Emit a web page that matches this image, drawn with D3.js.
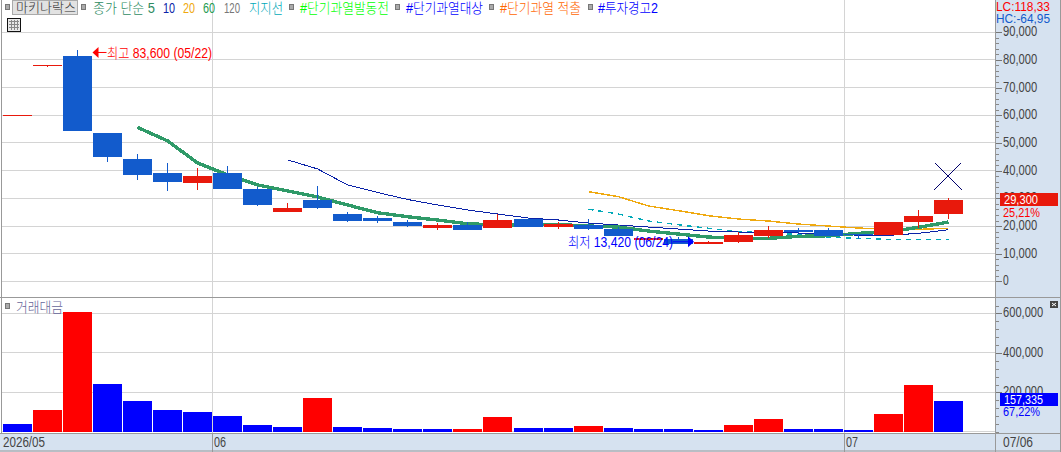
<!DOCTYPE html>
<html><head><meta charset="utf-8">
<script src="https://cdn.jsdelivr.net/npm/d3@7/dist/d3.min.js"></script>
<style>html,body{margin:0;padding:0;background:#fff;overflow:hidden}svg{display:block}
text{font-family:"Liberation Sans","Noto Sans CJK KR",sans-serif;font-weight:300}</style></head><body>
<svg id="c" width="1061" height="452"></svg>
<script>
const dates=["05/20","05/21","05/22","05/26","05/27","05/28","05/29","06/01","06/02","06/04","06/05","06/08","06/09","06/10","06/11","06/12","06/15","06/16","06/17","06/18","06/19","06/22","06/23","06/24","06/25","06/26","06/29","06/30","07/01","07/02","07/03","07/06"];
const open =[60000,78100,81500,53650,44250,39180,35560,39180,33390,25070,29410,24350,22900,21450,19280,20370,19280,22540,19650,20370,18920,14940,15300,13500,14220,16390,18560,18560,17000,16750,21450,24350];
const high =[60000,78100,83600,53650,46060,42800,40990,41720,34120,28330,34480,25070,23630,22180,21090,21450,24350,22900,21450,22540,19650,16000,16030,14580,17840,20010,19280,19280,17000,21450,25800,30140];
const low  =[60000,77530,54400,43160,36650,32670,33030,33390,27240,25070,26160,21450,21090,19650,18560,18560,19280,19650,18920,18560,16390,14700,13500,13420,13860,15670,17480,16390,15300,16750,19280,22540];
const close=[60000,78100,54400,44970,38460,35930,38100,33390,27610,26520,26520,21820,21820,20010,20370,18560,22180,19650,20730,18920,16390,15670,13500,14220,16750,18560,17840,16390,16750,21450,23630,29300];
const ma5  =[55640,50760,42800,38460,34840,32670,30500,27610,24820,23370,22180,20840,20370,20480,20550,20010,19650,18200,17110,16030,15490,15560,16280,16500,17370,17950,19540,21450];
const ma10 =[43890,40630,34840,32130,29600,27610,25800,24350,22900,22180,21090,20370,19650,18920,18200,17840,17840,17480,16860,16750,16640,17370,18670];
const ma20 =[32420,30610,27240,25540,23730,22540,21820,20730,20010,19280,18920,18810,19180];
const support=[26050,24350,21820,20480,19180,17950,17730,16860,16030,15560,15200,15200,15200];
const turnover=[39000,110000,606000,241700,155600,110000,99800,79600,34000,23800,170800,23800,18750,13700,13700,13700,74500,18750,18750,28900,18750,13700,13700,8600,34000,64400,13700,13700,8600,89700,236700,157335];
const turnoverUp=[0,1,1,0,0,0,0,0,0,0,1,0,0,0,0,1,1,0,0,1,0,0,0,0,1,1,0,0,0,1,1,0];
const priceTicks=[0,10000,20000,30000,40000,50000,60000,70000,80000,90000];
const turnoverTicks=[0,200000,400000,600000];
const monthLabels=[["05/20","2026/05"],["06/01","06"],["07/01","07"]];

const svg=d3.select("#c");
const W=1061,H=452,axisX=995,midY=297,stripY=433;
const CUP="#e8190c",CDN="#125bcc",GRID="#d4d4d4",PANEL="#d6e2f0",EDGE="#999",AX="#444";
const x=d3.scaleBand().domain(dates).range([2.5,964.42]);
const y=d3.scaleLinear().domain([0,90000]).range([281.45,32.15]);
const yv=d3.scaleLinear().domain([0,600000]).range([431.9,313.4]);
const left=d=>Math.round(x(d)), cx=d=>left(d)+14.5;
const crisp=v=>Math.floor(v)+.5;

function txt(px,py,s,color,w,opts={}){
  return svg.append("text").attr("x",px).attr("y",py).attr("dy","0.36em")
   .attr("font-size",opts.size||14).attr("fill",color).attr("textLength",w)
   .attr("lengthAdjust","spacingAndGlyphs").text(s);
}
function square(px,py){svg.append("rect").attr("x",px-2).attr("y",py-2.5).attr("width",4).attr("height",5)
   .attr("fill","#aaa").attr("stroke","#777").attr("stroke-width",1);}

// panels
svg.append("rect").attr("x",axisX).attr("y",0).attr("width",W-axisX).attr("height",H).attr("fill",PANEL);
svg.append("rect").attr("x",0).attr("y",stripY).attr("width",W).attr("height",H-stripY).attr("fill",PANEL);

// grid
const grid=svg.append("g").attr("stroke",GRID).attr("stroke-width",1);
priceTicks.forEach(t=>grid.append("line").attr("x1",2).attr("x2",axisX).attr("y1",crisp(y(t))).attr("y2",crisp(y(t))));
turnoverTicks.forEach(t=>grid.append("line").attr("x1",2).attr("x2",axisX).attr("y1",crisp(yv(t))).attr("y2",crisp(yv(t))));
const monthX=d=>crisp(x(d));
["06/01","07/01"].forEach(d=>grid.append("line").attr("x1",monthX(d)).attr("x2",monthX(d)).attr("y1",0).attr("y2",stripY));

// moving averages
const lineOf=(vals,start)=>d3.line().x((v,i)=>cx(dates[start+i])).y(v=>y(v))(vals);
const mas=svg.append("g").attr("fill","none").attr("shape-rendering","crispEdges");
mas.append("path").attr("d",lineOf(support,19)).attr("stroke","#00a9b8").attr("stroke-width",1.4).attr("stroke-dasharray","5,5");
mas.append("path").attr("d",lineOf(ma20,19)).attr("stroke","#efa90f").attr("stroke-width",1.4);
mas.append("path").attr("d",lineOf(ma10,9)).attr("stroke","#0a22a8").attr("stroke-width",1);
mas.append("path").attr("d",lineOf(ma5,4)).attr("stroke","#2f9a68").attr("stroke-width",3.4);

// candles
const candles=svg.append("g").attr("shape-rendering","crispEdges");
dates.forEach((d,i)=>{
  const up=close[i]>=open[i], col=up?CUP:CDN;
  const top=Math.round(y(Math.max(open[i],close[i]))), bot=Math.round(y(Math.min(open[i],close[i])));
  candles.append("rect").attr("x",left(d)+14).attr("width",1).attr("y",Math.round(y(high[i]))).attr("height",Math.max(1,Math.round(y(low[i]))-Math.round(y(high[i])))).attr("fill",col);
  candles.append("rect").attr("x",left(d)).attr("width",29).attr("y",top).attr("height",Math.max(1,bot-top)).attr("fill",col);
});

// turnover bars
svg.append("g").attr("shape-rendering","crispEdges").selectAll("rect").data(turnover).join("rect")
  .attr("x",(v,i)=>left(dates[i])).attr("width",29)
  .attr("y",v=>Math.round(yv(v))).attr("height",v=>432-Math.round(yv(v)))
  .attr("fill",(v,i)=>turnoverUp[i]?"#ff0000":"#0000ff");

// frame
const frame=svg.append("g").attr("stroke",EDGE).attr("stroke-width",1);
[[1.5,0,1.5,stripY],[axisX+.5,0,axisX+.5,H],[0,midY+.5,W,midY+.5],[0,stripY+.5,W,stripY+.5],[0,H-1,W,H-1],[W-.5,0,W-.5,H],[monthX("06/01"),stripY,monthX("06/01"),H],[monthX("07/01"),stripY,monthX("07/01"),H]]
 .forEach(a=>frame.append("line").attr("x1",a[0]).attr("y1",a[1]).attr("x2",a[2]).attr("y2",a[3]));

// axes
function styleAxis(g,charW){
  g.select(".domain").remove();
  g.selectAll("line").attr("stroke","#777").attr("shape-rendering","crispEdges");
  g.selectAll("text").attr("font-size",14).attr("fill",AX).attr("dy","0.25em")
   .attr("lengthAdjust","spacingAndGlyphs").attr("textLength",function(){return this.textContent.length*charW;});
}
const minorPrice=d3.range(0,46).map(k=>k*2000), minorTurn=d3.range(0,18).map(k=>k*40000);
svg.append("g").attr("transform",`translate(${axisX+1},0)`).call(d3.axisRight(y).tickValues(minorPrice).tickSize(3).tickFormat(""))
   .call(g=>{g.select(".domain").remove();g.selectAll("line").attr("stroke","#888").attr("shape-rendering","crispEdges");
     g.selectAll(".tick").filter(d=>y(d)<24).remove();});
svg.append("g").attr("transform",`translate(${axisX+1},0)`).call(d3.axisRight(yv).tickValues(minorTurn).tickSize(3).tickFormat(""))
   .call(g=>{g.select(".domain").remove();g.selectAll("line").attr("stroke","#888").attr("shape-rendering","crispEdges");
     g.selectAll(".tick").filter(d=>yv(d)<299).remove();});
svg.append("g").attr("transform",`translate(${axisX+1},0)`).call(d3.axisRight(y).tickValues(priceTicks).tickSize(6).tickPadding(1).tickFormat(d3.format(","))).call(g=>styleAxis(g,5.7));
svg.append("g").attr("transform",`translate(${axisX+1},0)`).call(d3.axisRight(yv).tickValues(turnoverTicks.slice(1)).tickSize(6).tickPadding(1).tickFormat(d3.format(","))).call(g=>styleAxis(g,5.75));

// date labels
monthLabels.forEach(m=>{const px=m[0]==="05/20"?3:monthX(m[0])+1.5;
  txt(px,441.5,m[1],AX,m[1].length*6);});
txt(1003,441.5,"07/06",AX,30);

// legend row
square(7.5,7);
svg.append("rect").attr("x",12.5).attr("y",.5).attr("width",65).attr("height",14).attr("fill","#e2e2e2").attr("stroke","#aaa");
txt(16,7.5,"마키나락스","#333",60,{size:13});
square(83.5,7);
txt(93,8,"종가 단순 5","#2e8b62",62);
txt(163,8,"10","#0a22a8",12);
txt(183,8,"20","#efa90f",12);
txt(203,8,"60","#1e9a50",12);
txt(224,8,"120","#777",16);
txt(249,8,"지지선","#00a9b8",34);
square(291.5,7);
txt(300,8,"#단기과열발동전","#00ff00",89);
square(397.5,7);
txt(406,8,"#단기과열대상","#0000ff",77);
square(491.5,7);
txt(500,8,"#단기과열 적출","#ff6600",81);
square(590.5,7);
txt(598,8,"#투자경고2","#0000ff",60);

// table icon
svg.append("rect").attr("x",7.5).attr("y",18.5).attr("width",13).attr("height",13).attr("fill","#e8e8e8").attr("stroke","#111");
const ic=svg.append("g").attr("stroke","#888").attr("shape-rendering","crispEdges");
[11,14,17].forEach(v=>ic.append("line").attr("x1",v+.5).attr("x2",v+.5).attr("y1",20).attr("y2",30));
[21,24,27].forEach(v=>ic.append("line").attr("x1",9).attr("x2",19).attr("y1",v+.5).attr("y2",v+.5));

// high / low annotations
const hx=cx("05/22")+15, hy=y(83600)+2.6;
svg.append("path").attr("d",`M${hx} ${hy}L${hx+6} ${hy-5.5}V${hy+5.5}Z`).attr("fill","#ff0000");
svg.append("line").attr("x1",hx+5).attr("x2",hx+14).attr("y1",hy).attr("y2",hy).attr("stroke","#ff0000");
txt(107,52.5,"최고 83,600 (05/22)","#ff0000",105);
const lx=left("06/24"), ly=y(13420)-2.5;
svg.append("line").attr("x1",lx-21).attr("x2",lx-4).attr("y1",ly).attr("y2",ly).attr("stroke","#0000ff");
svg.append("path").attr("d",`M${lx} ${ly}L${lx-6} ${ly-5.5}V${ly+5.5}Z`).attr("fill","#0000ff");
txt(568,242,"최저 13,420 (06/24)","#0000ff",105);

// cross marker
const mx=cx("07/06")-.5, my=y(38000);
const cross=svg.append("g").attr("stroke","#00006a").attr("stroke-width",1).attr("shape-rendering","crispEdges");
cross.append("line").attr("x1",mx-13.5).attr("y1",my-13.5).attr("x2",mx+13.5).attr("y2",my+13.5);
cross.append("line").attr("x1",mx-13.5).attr("y1",my+13.5).attr("x2",mx+13.5).attr("y2",my-13.5);

// right-hand texts
txt(996,6.5,"LC:118,33","#ff0000",54,{size:12});
txt(996,18.5,"HC:-64,95","#125bcc",54,{size:12});
svg.append("rect").attr("x",1000).attr("y",193).attr("width",58).attr("height",13).attr("fill",CUP);
txt(1004,199.5,"29,300","#fff",34,{size:12});
txt(1003,212.5,"25,21%","#ff0000",37,{size:12});
svg.append("rect").attr("x",1000).attr("y",393).attr("width",58).attr("height",13).attr("fill","#0000ff");
txt(1004,399.5,"157,335","#fff",39,{size:12});
txt(1003,412,"67,22%","#0000ff",37,{size:12});
svg.append("rect").attr("x",1050).attr("y",301).attr("width",8).attr("height",7).attr("fill","#444");
svg.append("path").attr("d","M1052 303L1056 306M1056 303L1052 306").attr("stroke","#fff").attr("stroke-width",1);

// turnover legend
square(7.5,306);
txt(16,306.5,"거래대금","#66669a",47);
</script></body></html>
